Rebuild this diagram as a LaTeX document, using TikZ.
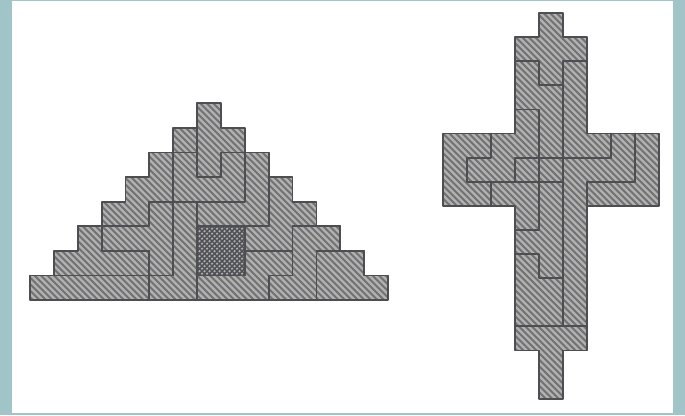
\documentclass[tikz,border=0pt]{standalone}
\definecolor{frameteal}{RGB}{160,196,200}
\definecolor{hatchbg}{RGB}{178,178,172}
\definecolor{hatchink}{RGB}{112,112,120}
\definecolor{squareink}{RGB}{80,80,88}
\definecolor{inkline}{RGB}{78,78,82}
\tikzset{
  hatchline/.style={hatchink,line width=1.8pt},
  crossline/.style={squareink,line width=1.5pt},
  wall/.style={inkline,line width=1.8pt,line cap=round,line join=round}
}
\begin{document}
\begin{tikzpicture}[x=1pt,y=-1pt]
\useasboundingbox (0,0) rectangle (685,415);
\fill[frameteal] (0,0) rectangle (685,415);
\fill[white] (12,1) rectangle (673,413);
% ---------- triangle: grid x=30+23.87 i, y=300-24.6 j
\begin{scope}[shift={(30,300)},x=23.87pt,y=24.6pt]
  \def\triout{(0,0)--(15,0)--(15,1)--(14,1)--(14,2)--(13,2)--(13,3)--(12,3)--(12,4)--(11,4)--(11,5)--(10,5)--(10,6)--(9,6)--(9,7)--(8,7)--(8,8)--(7,8)--(7,7)--(6,7)--(6,6)--(5,6)--(5,5)--(4,5)--(4,4)--(3,4)--(3,3)--(2,3)--(2,2)--(1,2)--(1,1)--(0,1)--cycle}
  \begin{scope}
    \clip \triout;
    \fill[hatchbg] (0,0) rectangle (15,8);
    \begin{scope}[x=1pt,y=-1pt]
      \foreach \k in {-10,-3.5,...,570} {\draw[hatchline] (\k-250,-250) -- (\k+50,50);}
    \end{scope}
  \end{scope}
  \fill[hatchbg] (7,1) rectangle (9,3);
  \begin{scope}
    \clip (7,1) rectangle (9,3);
    \begin{scope}[shift={(7,3)},x=1pt,y=-1pt]
      \foreach \k in {-50,-45,...,50} {\draw[crossline] (\k-5,-5) -- (\k+55,55);}
      \foreach \k in {0,5,...,100} {\draw[crossline] (\k+5,-5) -- (\k-55,55);}
    \end{scope}
  \end{scope}
  \draw[wall] \triout;
  \draw[wall] (0,1)--(6,1);
  \draw[wall] (7,1)--(9,1)--(9,3);
  \draw[wall] (5,0)--(5,2);
  \draw[wall] (3,3)--(3,2)--(5,2);
  \draw[wall] (2,3)--(5,3)--(5,4)--(9,4)--(9,6);
  \draw[wall] (6,1)--(6,6);
  \draw[wall] (5,6)--(7,6);
  \draw[wall] (7,8)--(7,5)--(8,5)--(8,6)--(10,6);
  \draw[wall] (7,0)--(7,4);
  \draw[wall] (7,3)--(10,3);
  \draw[wall] (10,5)--(10,3);
  \draw[wall] (13,3)--(11,3)--(11,1)--(10,1)--(10,0);
  \draw[wall] (9,2)--(11,2);
  \draw[wall] (12,0)--(12,2)--(14,2);
\end{scope}
% ---------- cross: grid x=443+24 i, y=13+24.1 j
\begin{scope}[shift={(443,13)},x=24pt,y=-24.1pt]
  \def\crsout{(4,0)--(5,0)--(5,1)--(6,1)--(6,5)--(9,5)--(9,8)--(6,8)--(6,14)--(5,14)--(5,16)--(4,16)--(4,14)--(3,14)--(3,8)--(0,8)--(0,5)--(3,5)--(3,1)--(4,1)--cycle}
  \begin{scope}
    \clip \crsout;
    \fill[hatchbg] (0,0) rectangle (9,16);
    \begin{scope}[x=1pt,y=-1pt]
      \foreach \k in {-400,-393.5,...,230} {\draw[hatchline] (\k-10,-10) -- (\k+400,400);}
    \end{scope}
  \end{scope}
  \draw[wall] \crsout;
  \draw[wall] (3,2)--(4,2)--(4,3)--(5,3);
  \draw[wall] (5,2)--(6,2);
  \draw[wall] (5,2)--(5,13);
  \draw[wall] (3,13)--(6,13);
  \draw[wall] (3,4)--(4,4)--(4,9)--(3,9);
  \draw[wall] (2,5)--(2,6)--(1,6)--(1,7)--(3,7)--(3,6)--(7,6)--(7,5);
  \draw[wall] (3,7)--(5,7);
  \draw[wall] (2,7)--(2,8);
  \draw[wall] (8,5)--(8,7)--(6,7)--(6,8);
  \draw[wall] (3,10)--(4,10)--(4,11)--(5,11);
\end{scope}
\end{tikzpicture}
\end{document}
